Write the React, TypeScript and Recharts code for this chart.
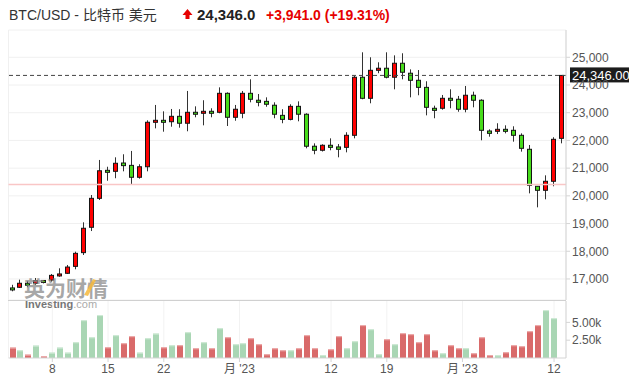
import { ComposedChart, Bar, XAxis, YAxis, CartesianGrid, ReferenceLine } from "recharts";

// daily candles, 2023-01-03 .. 2023-03-13
const dates = [
  "01-03", "01-04", "01-05", "01-06", "01-07", "01-08", "01-09", "01-10", "01-11", "01-12",
  "01-13", "01-14", "01-15", "01-16", "01-17", "01-18", "01-19", "01-20", "01-21", "01-22",
  "01-23", "01-24", "01-25", "01-26", "01-27", "01-28", "01-29", "01-30", "01-31",
  "02-01", "02-02", "02-03", "02-04", "02-05", "02-06", "02-07", "02-08", "02-09", "02-10",
  "02-11", "02-12", "02-13", "02-14", "02-15", "02-16", "02-17", "02-18", "02-19", "02-20",
  "02-21", "02-22", "02-23", "02-24", "02-25", "02-26", "02-27", "02-28",
  "03-01", "03-02", "03-03", "03-04", "03-05", "03-06", "03-07", "03-08", "03-09", "03-10",
  "03-11", "03-12", "03-13",
];

const opens = [
  16670, 16700, 16845, 16845, 16940, 16960, 17110, 17205, 17455, 17950,
  18865, 19910, 20920, 20885, 21185, 21100, 20670, 21050, 22655, 22725,
  22675, 22870, 22620, 23015, 22980, 23050, 23015, 23700, 22835, 22980,
  23700, 23450, 23410, 23270, 22905, 22760, 23230, 22945, 21790, 21645,
  21825, 21765, 21750, 22185, 24280, 23520, 24530, 24605, 24280, 24785,
  24425, 24170, 23915, 23160, 23160, 23520, 23485, 23125, 23630, 23450,
  22340, 22330, 22400, 22365, 22185, 21680, 20345, 20200, 20525, 22075,
];
const highs = [
  16790, 16975, 16930, 17035, 16960, 17180, 17385, 17505, 17985, 19045,
  20030, 21295, 21050, 21390, 21500, 21620, 21140, 22725, 23280, 23050,
  23135, 23125, 23785, 23230, 23450, 23160, 23915, 23735, 23280, 23785,
  24205, 23675, 23555, 23375, 23125, 23305, 23410, 22980, 21895, 21860,
  22075, 21870, 22295, 24325, 25180, 25000, 24820, 25180, 25070, 25145,
  24565, 24540, 24135, 23255, 23640, 23845, 23605, 23965, 23760, 23485,
  22400, 22620, 22545, 22510, 22255, 21835, 20345, 20740, 22115, 24346,
];
const lows = [
  16555, 16675, 16700, 16780, 16840, 16900, 17080, 17180, 17350, 17865,
  18730, 19850, 20545, 20635, 20885, 20415, 20620, 20885, 22435, 22315,
  22495, 22460, 22330, 22835, 22545, 22835, 22980, 22520, 22710, 22800,
  23375, 23230, 23215, 22800, 22620, 22725, 22690, 21715, 21500, 21600,
  21645, 21390, 21570, 22075, 23485, 23340, 24425, 24240, 23845, 24205,
  23555, 23630, 22905, 22800, 23110, 23160, 23035, 23015, 23195, 22005,
  22135, 22230, 22255, 21955, 21595, 20090, 19585, 19875, 20345, 21895,
];
const closes = [
  16610, 16845, 16775, 16940, 16880, 17130, 17180, 17430, 17925, 18830,
  19910, 20905, 20850, 21175, 21090, 20670, 21050, 22655, 22725, 22655,
  22870, 22620, 23015, 22945, 23050, 22980, 23700, 22835, 23125, 23700,
  23485, 23375, 23305, 22945, 22760, 23230, 22945, 21790, 21645, 21825,
  21750, 21680, 22185, 24280, 23520, 24530, 24605, 24280, 24785, 24460,
  24170, 23915, 23195, 23085, 23520, 23450, 23125, 23630, 23450, 22365,
  22255, 22400, 22330, 22185, 21715, 20380, 20200, 20525, 22040, 24346,
];
const volumes: (number | null)[] = [
  1460, 1080, 470, 1740, 235, 750, 1460, 750, 2210, 5310,
  2910, 6020, 1500, 3200, 2070, 3060, 750, 2770, 3430, 1500,
  1790, 1790, 3620, 1360, 2210, 1360, 4180, 2910, 1930, 2070,
  2770, 1930, 520, 1360, 1080, 1080, 1360, 3200, 1360, 380,
  1220, 3060, 1360, 2350, 4610, 4040, 520, 2630, 1930, 3480,
  3340, 2210, 3340, 1080, 660, 1790, 1360, 1360, 660, 2910,
  380, 380, 800, 1790, 1650, 3760, 4610, 6720, 5590, null,
];

const xTickPos = [5, 12, 19, 28.5, 40, 47, 56.5, 68];
const xTickLabels = ["8", "15", "22", "月 '23", "12", "19", "月 '23", "12"];
const priceTicks = [17000, 18000, 19000, 20000, 21000, 22000, 23000, 24000, 25000];
const volumeTicks = [2500, 5000];

const lastPrice = 24346.0;
const change = 3941.0;
const changePct = 19.31;
const prevClose = lastPrice - change;

const rows = dates.map((date, i) => ({
  i,
  date,
  open: opens[i],
  high: highs[i],
  low: lows[i],
  close: closes[i],
  vol: volumes[i],
}));

const FONT = "'Liberation Sans', Arial, 'Noto Sans CJK SC', sans-serif";
const UP = "#ff0000";
const DOWN = "#47dc1b";
const W = 629;
const AXIS_W = 63;
const LEFT = 8.5;

const Candle = (props: any) => {
  const { x, y, width, height, payload } = props;
  if (x == null || y == null) return null;
  const top = Math.min(y, y + height);
  const span = Math.abs(height);
  const { open, close, high, low } = payload;
  const k = high > low ? span / (high - low) : 0;
  const py = (v: number) => top + (high - v) * k;
  const cx = Math.floor(x + width / 2) + 0.5;
  let b0 = py(Math.max(open, close));
  let b1 = py(Math.min(open, close));
  if (b1 - b0 < 2) {
    const m = (b0 + b1) / 2;
    b0 = m - 1;
    b1 = m + 1;
  }
  return (
    <g>
      <line x1={cx} x2={cx} y1={top} y2={top + span} stroke="#333" strokeWidth={1} />
      <rect x={cx - 2} y={b0} width={4} height={b1 - b0} fill={close >= open ? UP : DOWN} stroke="#151515" strokeWidth={1} />
    </g>
  );
};

const VolBar = (props: any) => {
  const { x, y, width, height, payload } = props;
  if (payload.vol == null || !height) return null;
  const up = payload.close >= payload.open;
  const rx = Math.round(x);
  return (
    <g>
      <rect x={rx} y={y} width={width} height={height} fill={up ? "#a9d6b4" : "#d96a6a"} />
      <rect x={rx} y={y} width={width} height={1} fill={up ? "#d3ecd9" : "#efb3b3"} />
    </g>
  );
};

const PriceTag = (props: any) => {
  const vb = props.viewBox;
  if (!vb) return null;
  const x = vb.x + vb.width + 4;
  return (
    <g>
      <rect x={x} y={vb.y - 8} width={W - x} height={15} fill="#1c1c1c" />
      <text x={x + 2} y={vb.y + 4.5} fill="#fff" fontSize={13} fontFamily={FONT}>
        {lastPrice.toLocaleString("en-US", { minimumFractionDigits: 2 })}
      </text>
    </g>
  );
};

const fmtDate = (v: number) => {
  const k = xTickPos.indexOf(v);
  return k >= 0 ? xTickLabels[k] : "";
};

export default function App() {
  const xDomain = [-0.5, dates.length - 0.5];
  return (
    <div style={{ position: "absolute", left: 0, top: 0, width: W, height: 392, background: "#fff", fontFamily: FONT, overflow: "hidden" }}>
      <svg width={W} height={30} style={{ position: "absolute", left: 0, top: 0 }}>
        <text x={9} y={19.5} fontSize={14} fill="#333" fontFamily={FONT}>BTC/USD - 比特币 美元</text>
        <path d="M182.5 15 L187.5 9 L192.5 15 L189.5 15 L189.5 19 L185.5 19 L185.5 15 Z" fill="#e60000" />
        <text x={197} y={19.5} fontSize={15} fontWeight="bold" fill="#222" fontFamily={FONT}>
          {lastPrice.toLocaleString("en-US", { minimumFractionDigits: 1 })}
        </text>
        <text x={266} y={19.5} fontSize={14} fontWeight="bold" fill="#e60000" fontFamily={FONT}>
          {`+${change.toLocaleString("en-US", { minimumFractionDigits: 1 })} (+${changePct.toFixed(2)}%)`}
        </text>
      </svg>

      <div style={{ position: "absolute", left: 0, top: 0 }}>
        <ComposedChart width={W} height={300} data={rows} margin={{ top: 30, right: 0, bottom: 0, left: LEFT }}>
          <CartesianGrid stroke="#f0f0f0" />
          <XAxis type="number" dataKey="i" domain={xDomain} ticks={xTickPos} tick={false} tickLine={false} axisLine={false} height={0} />
          <YAxis
            orientation="right"
            domain={[16241, 25985]}
            allowDataOverflow
            ticks={priceTicks}
            interval={0}
            tickFormatter={(v) => v.toLocaleString("en-US")}
            width={AXIS_W}
            tickSize={4}
            tickMargin={2}
            axisLine={{ stroke: "#d5d5d5" }}
            tickLine={{ stroke: "#d5d5d5" }}
            tick={{ fontSize: 12, fill: "#555" }}
          />
          <ReferenceLine y={prevClose} stroke="#f9c6c6" strokeWidth={1.5} />
          <Bar dataKey={(d: any) => [d.low, d.high]} barSize={5} shape={(p: any) => <Candle {...p} />} isAnimationActive={false} />
          <ReferenceLine y={lastPrice} stroke="#444" strokeDasharray="4 3" label={(p: any) => <PriceTag {...p} />} />
        </ComposedChart>
      </div>

      <svg width={W} height={320} style={{ position: "absolute", left: 0, top: 0, pointerEvents: "none" }}>
        <text x={24} y={296} fontSize={21} fontWeight="bold" fill="#8a8a8a" fillOpacity={0.75} fontFamily="'Noto Sans CJK SC', sans-serif">英为财情</text>
        <path d="M84 295 L93 279 L96 280 L88 296 Z" fill="#f6b93b" fillOpacity={0.85} />
        <text x={25} y={308} fontSize={11} fontWeight="bold" fill="#777" fontFamily={FONT}>
          Investing<tspan fontWeight="normal" fill="#aaa">.com</tspan>
        </text>
      </svg>

      <div style={{ position: "absolute", left: 8, top: 300, width: 558, height: 1, background: "#d0d0d0" }} />

      <div style={{ position: "absolute", left: 0, top: 301 }}>
        <ComposedChart width={W} height={91} data={rows} margin={{ top: 0, right: 0, bottom: 0, left: LEFT }}>
          <CartesianGrid stroke="#f2f2f2" horizontal={false} />
          <XAxis
            type="number"
            dataKey="i"
            domain={xDomain}
            ticks={xTickPos}
            interval={0}
            tickFormatter={fmtDate}
            height={34}
            tickSize={4}
            tickMargin={2}
            axisLine={{ stroke: "#d5d5d5" }}
            tickLine={{ stroke: "#d5d5d5" }}
            tick={{ fontSize: 12, fill: "#555" }}
          />
          <YAxis
            orientation="right"
            domain={[0, 8000]}
            ticks={volumeTicks}
            interval={0}
            tickFormatter={(v) => `${(v / 1000).toFixed(2)}k`}
            width={AXIS_W}
            tickSize={4}
            tickMargin={2}
            axisLine={{ stroke: "#d5d5d5" }}
            tickLine={{ stroke: "#d5d5d5" }}
            tick={{ fontSize: 12, fill: "#555" }}
          />
          <Bar dataKey="vol" barSize={6} shape={(p: any) => <VolBar {...p} />} isAnimationActive={false} />
        </ComposedChart>
      </div>
    </div>
  );
}
